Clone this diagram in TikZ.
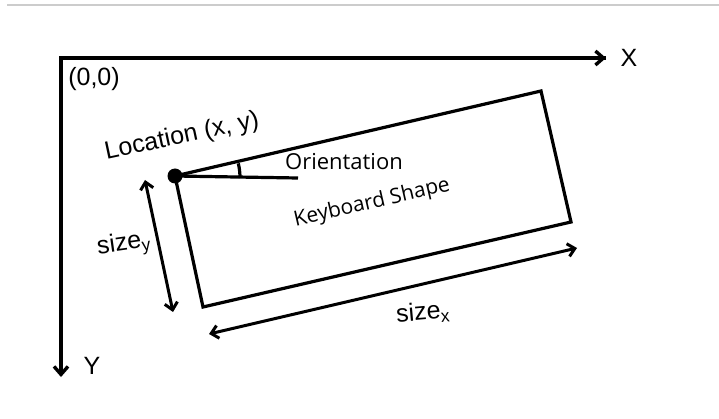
\documentclass[tikz,border=0pt]{standalone}
\usepackage{fontspec}
\setmainfont{Liberation Sans}
\newfontfamily\uifont{Open Sans}
\usetikzlibrary{arrows.meta}

\begin{document}
\begin{tikzpicture}[
		x=1pt, y=-1pt,
		every node/.style={font=\fontsize{25}{29}\selectfont, inner sep=0pt},
		uitext/.style={font=\uifont\fontsize{22}{26}\selectfont},
		axis/.style={line width=3.6pt, -{Straight Barb[length=8pt, width=14pt, line width=3.4pt]}},
		dim/.style={line width=3pt, {Straight Barb[length=7pt, width=13pt, line width=3pt]}-{Straight Barb[length=7pt, width=13pt, line width=3pt]}},
		edge/.style={line width=3.2pt},
		]
		
		\useasboundingbox (0,0) rectangle (719,419);
		\draw[gray!40, line width=1.5pt] (7,5) -- (719,5);
		
		% axes
		\coordinate (origin) at (61,58);
		\node (xlabel) at (629,58) {X};
		\node (ylabel) at (92,366) {Y};
		\node (zero)   at (94,79)  {(0,0)};
		\draw[axis, line join=miter] (606,58) -- (origin) -- (61,377);
		\draw[axis] (origin) -- (606,58);
		
		% keyboard outline
		\coordinate (loc) at (175,176);
		\coordinate (ne)  at (541,91);
		\coordinate (se)  at (571,222);
		\coordinate (sw)  at (203,307);
		\draw[edge, line join=miter] (loc) -- (ne) -- (se) -- (sw) -- cycle;
		\node[uitext, rotate=13, font=\uifont\fontsize{21}{25}\selectfont] (shape) at (372,203) {Keyboard Shape};
		
		% location and orientation
		\fill (loc) circle (7.5);
		\node[rotate=12] (location) at (182,137) {Location (x, y)};
		\coordinate (heading) at (298,178);
		\draw[edge] (loc) -- (heading);
		\draw[edge] (240,178) arc[start angle=0, end angle=-13, radius=65];
		\node[uitext] (orient) at (344,162) {Orientation};
		
		% sizes
		\coordinate (ytop) at (145,180);
		\coordinate (ybot) at (173,312);
		\coordinate (xleft)  at (209,334);
		\coordinate (xright) at (577,248);
		\draw[dim] (ytop) -- (ybot);
		\draw[dim] (xleft) -- (xright);
		\node[rotate=8] (sizey) at (124,245) {size\textsubscript{y}};
		\node[rotate=5] (sizex) at (423,313) {size\textsubscript{x}};
		
	\end{tikzpicture}
\end{document}
